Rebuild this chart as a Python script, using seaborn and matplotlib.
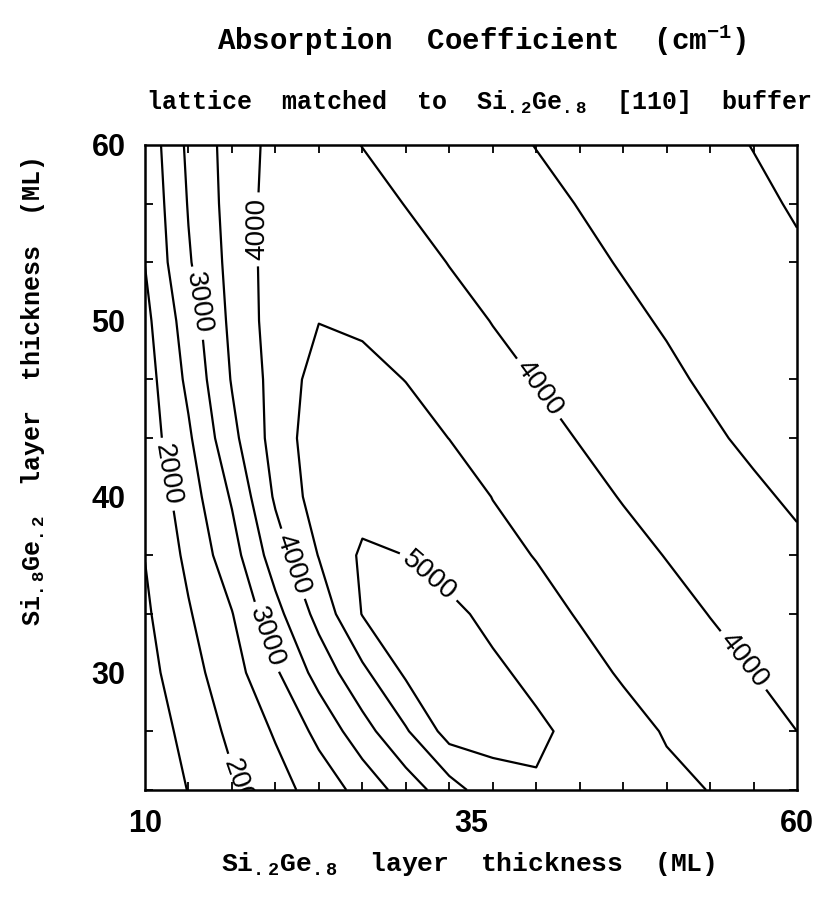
import matplotlib
matplotlib.use("Agg")
import matplotlib.pyplot as plt
from matplotlib.ticker import FixedLocator, MultipleLocator, NullFormatter
import numpy as np
import pandas as pd
import seaborn as sns

# Si.2Ge.8 thickness (ML), columns of the computed grid
x_thick = [10.0, 13.33, 16.67, 20.0, 23.33, 26.67, 30.0, 33.33,
           36.67, 40.0, 43.33, 46.67, 50.0, 53.33, 56.67, 60.0]
# Si.8Ge.2 thickness (ML), rows of the computed grid (bottom -> top)
y_thick = [23.33, 26.67, 30.0, 33.33, 36.67, 40.0,
           43.33, 46.67, 50.0, 53.33, 56.67, 60.0]

# absorption coefficient (cm^-1), one row per y_thick
alpha_23 = [1110, 1515, 1925, 2305, 2710, 3170, 3725, 4280, 4820, 4950, 4850, 4720, 4600, 4490, 4320, 4150]
alpha_27 = [1195, 1655, 2110, 2550, 3135, 3800, 4445, 5200, 5150, 5080, 4880, 4665, 4465, 4310, 4155, 4000]
alpha_30 = [1325, 1815, 2295, 2930, 3685, 4385, 5080, 5200, 5080, 4890, 4660, 4450, 4300, 4150, 4000, 3845]
alpha_33 = [1420, 1955, 2480, 3335, 4165, 5020, 5150, 5100, 4890, 4670, 4465, 4305, 4150, 3990, 3830, 3670]
alpha_37 = [1510, 2110, 2800, 3750, 4520, 5080, 4998, 4825, 4655, 4480, 4315, 4145, 3985, 3850, 3715, 3585]
alpha_40 = [1600, 2255, 3055, 4070, 4750, 4800, 4850, 4750, 4490, 4320, 4145, 3975, 3840, 3705, 3570, 3435]
alpha_43 = [1730, 2425, 3365, 4205, 4800, 4800, 4700, 4495, 4320, 4150, 3980, 3840, 3700, 3560, 3420, 3280]
alpha_47 = [1775, 2610, 3535, 4185, 4700, 4650, 4490, 4325, 4155, 3985, 3845, 3710, 3575, 3435, 3300, 3165]
alpha_50 = [1870, 2745, 3620, 4230, 4490, 4420, 4330, 4180, 3985, 3850, 3720, 3585, 3460, 3350, 3240, 3130]
alpha_53 = [2010, 2950, 3660, 4230, 4400, 4350, 4200, 3985, 3855, 3725, 3595, 3470, 3365, 3260, 3155, 3050]
alpha_57 = [2080, 3030, 3700, 4200, 4320, 4200, 3985, 3860, 3730, 3610, 3485, 3380, 3275, 3175, 3070, 2965]
alpha_60 = [2150, 3100, 3710, 4150, 4200, 3990, 3860, 3740, 3620, 3490, 3390, 3290, 3190, 3090, 2990, 2880]

plain_levels = [1500, 2500, 3500, 4500]
label_levels = [2000, 3000, 4000, 5000]
# where the labels sit on the lines
label_pos = [(18.7, 55.2), (14.0, 51.0), (11.9, 41.3), (21.0, 36.1),
             (19.2, 32.0), (32.0, 35.7), (40.1, 46.1), (55.9, 30.7),
             (17.3, 23.4)]

xtick_vals = [10, 35, 60]
ytick_vals = [30, 40, 50, 60]

title = r"Absorption  Coefficient  (cm$^{-1}$)"
subtitle = r"lattice  matched  to  Si$_{.2}$Ge$_{.8}$  [110]  buffer"
xlabel = r"Si$_{.2}$Ge$_{.8}$  layer  thickness  (ML)"
ylabel = r"Si$_{.8}$Ge$_{.2}$  layer  thickness  (ML)"

sns.set_theme(style="white")
plt.rcParams["font.family"] = ["Liberation Sans", "DejaVu Sans"]
plt.rcParams["text.color"] = "black"
plt.rcParams["mathtext.fontset"] = "custom"
plt.rcParams["mathtext.rm"] = "Liberation Mono:bold"
plt.rcParams["mathtext.default"] = "rm"

grid = pd.DataFrame(
    [alpha_23, alpha_27, alpha_30, alpha_33, alpha_37, alpha_40,
     alpha_43, alpha_47, alpha_50, alpha_53, alpha_57, alpha_60],
    index=y_thick, columns=x_thick,
)
gx = grid.columns.values
gy = grid.index.values

fig = plt.figure(figsize=(8.17, 9.10), dpi=100)
ax = fig.add_axes([0.1775, 0.1319, 0.798, 0.7088])

ax.contour(gx, gy, grid.values, levels=plain_levels, colors="black",
           linewidths=1.6)
cs = ax.contour(gx, gy, grid.values, levels=label_levels, colors="black",
                linewidths=1.6)
texts = ax.clabel(cs, manual=label_pos, inline=True, fmt="%d",
                  fontsize=20, inline_spacing=6)
for t in texts:
    t.set_fontfamily("Liberation Sans")
    t.set_color("black")
    t.set_clip_on(True)

ax.set_xlim(x_thick[0], x_thick[-1])
ax.set_ylim(y_thick[0], y_thick[-1])

ax.xaxis.set_major_locator(FixedLocator(xtick_vals))
ax.yaxis.set_major_locator(FixedLocator(ytick_vals))
ax.xaxis.set_minor_locator(MultipleLocator(10 / 3))
ax.yaxis.set_minor_locator(MultipleLocator(10 / 3))
ax.xaxis.set_minor_formatter(NullFormatter())
ax.yaxis.set_minor_formatter(NullFormatter())
ax.set_xticklabels([str(v) for v in xtick_vals])
ax.set_yticklabels([str(v) for v in ytick_vals])
ax.tick_params(which="major", length=0, pad=14, labelsize=22,
               labelcolor="black")
ax.tick_params(which="minor", direction="in", length=6, width=1.3,
               color="black", top=True, right=True, bottom=True, left=True)
for lab in ax.get_xticklabels() + ax.get_yticklabels():
    lab.set_fontweight("bold")

for sp in ax.spines.values():
    sp.set_visible(True)
    sp.set_color("black")
    sp.set_linewidth(1.8)

fig.text(0.590, 0.956, title, ha="center", va="center", fontsize=21,
         family="Liberation Mono", weight="bold", color="black")
fig.text(0.586, 0.888, subtitle, ha="center", va="center", fontsize=18,
         family="Liberation Mono", weight="bold", color="black")
fig.text(0.573, 0.050, xlabel, ha="center", va="center", fontsize=19,
         family="Liberation Mono", weight="bold", color="black")
fig.text(0.040, 0.569, ylabel, ha="center", va="center", fontsize=18,
         family="Liberation Mono", weight="bold", rotation=90, color="black")

fig.savefig("out.png", dpi=100, facecolor="white")
